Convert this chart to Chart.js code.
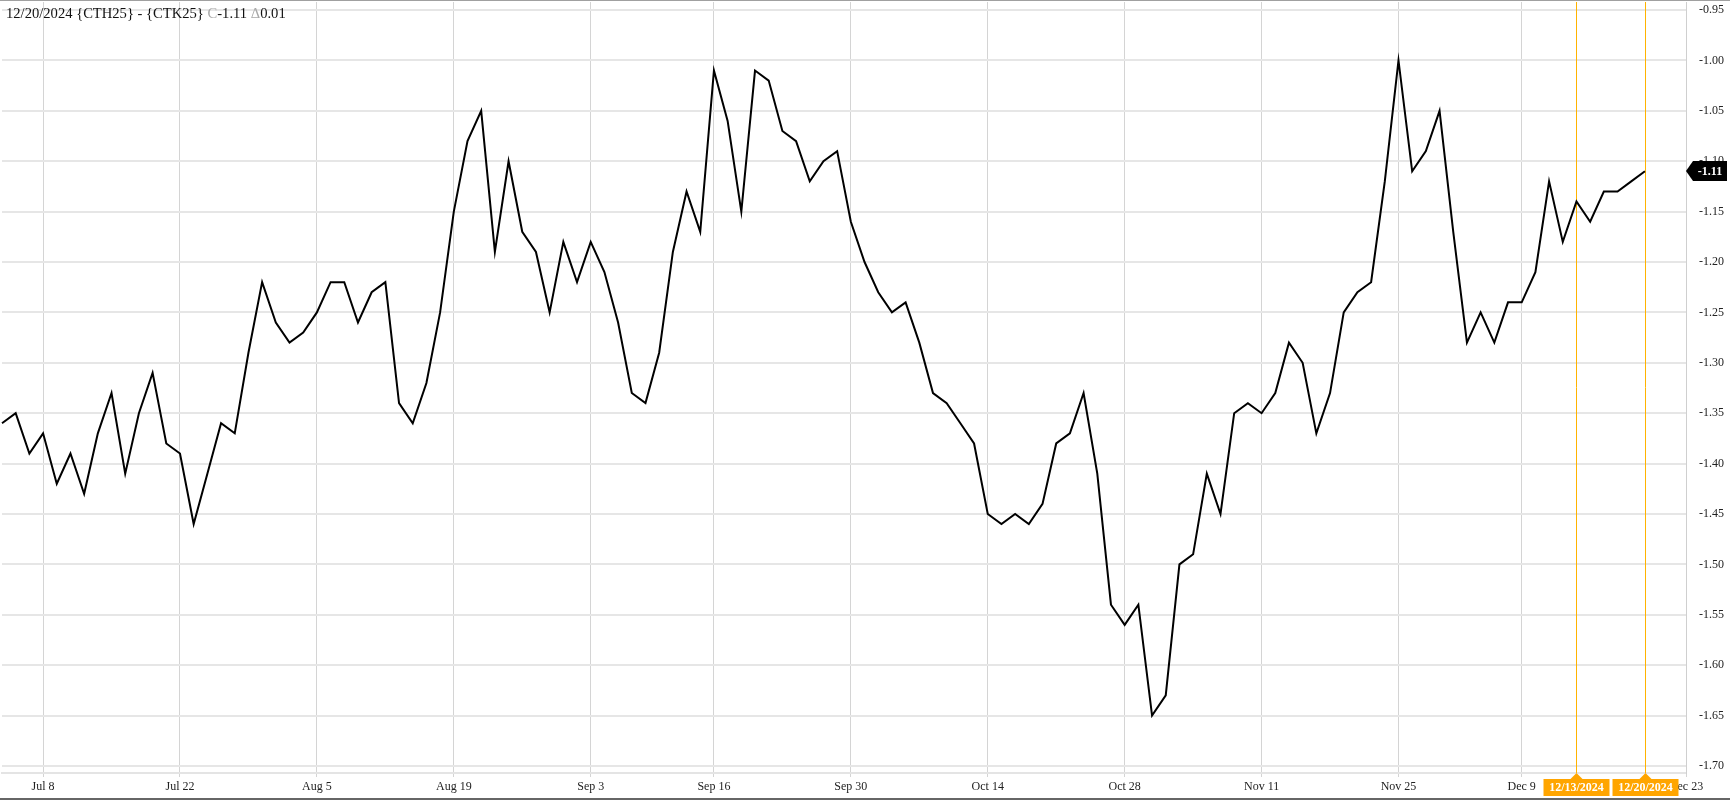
<!DOCTYPE html>
<html>
<head>
<meta charset="utf-8">
<script src="https://cdn.jsdelivr.net/npm/chart.js@4.4.1/dist/chart.umd.min.js"></script>
<style>
    body { margin: 0; background: #fff; }
    #wrap { width: 1730px; height: 800px; }
</style>
</head>
<body>
<div id="wrap"><canvas id="spread" width="1730" height="800"></canvas></div>
<script>
// trading days, plus three calendar days of empty space after the last close
const days = [
    'Jul 2','Jul 3','Jul 5','Jul 8','Jul 9','Jul 10','Jul 11','Jul 12','Jul 15','Jul 16','Jul 17','Jul 18','Jul 19',
    'Jul 22','Jul 23','Jul 24','Jul 25','Jul 26','Jul 29','Jul 30','Jul 31',
    'Aug 1','Aug 2','Aug 5','Aug 6','Aug 7','Aug 8','Aug 9','Aug 12','Aug 13','Aug 14','Aug 15','Aug 16',
    'Aug 19','Aug 20','Aug 21','Aug 22','Aug 23','Aug 26','Aug 27','Aug 28','Aug 29','Aug 30',
    'Sep 3','Sep 4','Sep 5','Sep 6','Sep 9','Sep 10','Sep 11','Sep 12','Sep 13','Sep 16','Sep 17','Sep 18','Sep 19','Sep 20',
    'Sep 23','Sep 24','Sep 25','Sep 26','Sep 27','Sep 30',
    'Oct 1','Oct 2','Oct 3','Oct 4','Oct 7','Oct 8','Oct 9','Oct 10','Oct 11','Oct 14','Oct 15','Oct 16','Oct 17','Oct 18',
    'Oct 21','Oct 22','Oct 23','Oct 24','Oct 25','Oct 28','Oct 29','Oct 30','Oct 31',
    'Nov 1','Nov 4','Nov 5','Nov 6','Nov 7','Nov 8','Nov 11','Nov 12','Nov 13','Nov 14','Nov 15',
    'Nov 18','Nov 19','Nov 20','Nov 21','Nov 22','Nov 25','Nov 26','Nov 27','Nov 29',
    'Dec 2','Dec 3','Dec 4','Dec 5','Dec 6','Dec 9','Dec 10','Dec 11','Dec 12','Dec 13','Dec 16','Dec 17','Dec 18','Dec 19','Dec 20',
    'Dec 21','Dec 22','Dec 23'
]

// CTH25 - CTK25 spread, one close per trading day
const spread = [
    -1.36,-1.35,-1.39,-1.37,-1.42,-1.39,-1.43,-1.37,-1.33,-1.41,-1.35,-1.31,-1.38,
    -1.39,-1.46,-1.41,-1.36,-1.37,-1.29,-1.22,-1.26,
    -1.28,-1.27,-1.25,-1.22,-1.22,-1.26,-1.23,-1.22,-1.34,-1.36,-1.32,-1.25,
    -1.15,-1.08,-1.05,-1.19,-1.10,-1.17,-1.19,-1.25,-1.18,-1.22,
    -1.18,-1.21,-1.26,-1.33,-1.34,-1.29,-1.19,-1.13,-1.17,-1.01,-1.06,-1.15,-1.01,-1.02,
    -1.07,-1.08,-1.12,-1.10,-1.09,-1.16,
    -1.20,-1.23,-1.25,-1.24,-1.28,-1.33,-1.34,-1.36,-1.38,-1.45,-1.46,-1.45,-1.46,-1.44,
    -1.38,-1.37,-1.33,-1.41,-1.54,-1.56,-1.54,-1.65,-1.63,
    -1.50,-1.49,-1.41,-1.45,-1.35,-1.34,-1.35,-1.33,-1.28,-1.30,-1.37,
    -1.33,-1.25,-1.23,-1.22,-1.12,-1.00,-1.11,-1.09,-1.05,
    -1.17,-1.28,-1.25,-1.28,-1.24,-1.24,-1.21,-1.12,-1.18,-1.14,-1.16,-1.13,-1.13,-1.12,-1.11
]

const tickDays = ['Jul 8','Jul 22','Aug 5','Aug 19','Sep 3','Sep 16','Sep 30','Oct 14','Oct 28','Nov 11','Nov 25','Dec 9','Dec 23']
const markerDays = ['Dec 13', 'Dec 20']
const markerText = ['12/13/2024', '12/20/2024']
const titleDate = '12/20/2024'
const titleName = '{CTH25} - {CTK25}'

const FONT = '"Liberation Serif", "DejaVu Serif", serif'

const overlay = {
    id: 'overlay',
    beforeDatasetsDraw(chart) {
        const {ctx, chartArea, scales} = chart
        ctx.save()
        ctx.strokeStyle = '#ffb300'
        ctx.lineWidth = 1
        markerDays.forEach(d => {
            const px = Math.round(scales.x.getPixelForValue(days.indexOf(d))) + 0.5
            ctx.beginPath()
            ctx.moveTo(px, chartArea.top)
            ctx.lineTo(px, chartArea.bottom)
            ctx.stroke()
        })
        ctx.restore()
    },
    afterDraw(chart) {
        const {ctx, chartArea, scales, width, height} = chart
        ctx.save()

        // frame
        ctx.fillStyle = '#a0a0a0'
        ctx.fillRect(0, 0, width, 1)
        ctx.fillStyle = '#666'
        ctx.fillRect(0, height - 2, width, 2)

        // title
        const last = spread[spread.length - 1]
        const change = last - spread[spread.length - 2]
        const parts = [
            [titleDate + ' ' + titleName + ' ', '#111'],
            ['C', '#a8a8a8'],
            [last.toFixed(2) + ' ', '#111'],
            ['\u0394', '#a8a8a8'],
            [change.toFixed(2), '#111'],
        ]
        ctx.font = '14.6px ' + FONT
        ctx.textBaseline = 'alphabetic'
        ctx.textAlign = 'left'
        let tx = 6
        parts.forEach(([txt, col]) => {
            ctx.fillStyle = col
            ctx.fillText(txt, tx, 18)
            tx += ctx.measureText(txt).width
        })

        // date markers on the x axis
        ctx.font = 'bold 12px ' + FONT
        ctx.textAlign = 'center'
        ctx.textBaseline = 'middle'
        markerDays.forEach((d, i) => {
            const px = Math.round(scales.x.getPixelForValue(days.indexOf(d))) + 0.5
            const top = chartArea.bottom + 6
            ctx.fillStyle = '#ffa500'
            ctx.fillRect(px - 33, top, 66, 17)
            ctx.beginPath()
            ctx.moveTo(px, chartArea.bottom)
            ctx.lineTo(px - 6, top)
            ctx.lineTo(px + 6, top)
            ctx.closePath()
            ctx.fill()
            ctx.fillStyle = '#fff'
            ctx.fillText(markerText[i], px, top + 9)
        })

        // last price tag
        const yc = Math.round(scales.y.getPixelForValue(last))
        const lx = chartArea.right
        ctx.fillStyle = '#000'
        ctx.beginPath()
        ctx.moveTo(lx, yc)
        ctx.lineTo(lx + 7, yc - 10)
        ctx.lineTo(lx + 41, yc - 10)
        ctx.lineTo(lx + 41, yc + 10)
        ctx.lineTo(lx + 7, yc + 10)
        ctx.closePath()
        ctx.fill()
        ctx.fillStyle = '#fff'
        ctx.fillText(last.toFixed(2), lx + 24, yc + 1)

        ctx.restore()
    }
}

new Chart(document.getElementById('spread'), {
    type: 'line',
    data: {
        labels: days,
        datasets: [{
            data: spread,
            borderColor: '#000',
            borderWidth: 2,
            pointRadius: 0,
            tension: 0,
            fill: false,
        }]
    },
    options: {
        responsive: false,
        animation: false,
        layout: { padding: { left: 2, top: 2, right: 0, bottom: 0 } },
        plugins: { legend: { display: false }, tooltip: { enabled: false } },
        scales: {
            x: {
                type: 'category',
                offset: false,
                afterBuildTicks: axis => {
                    axis.ticks = axis.ticks.filter(t => tickDays.includes(days[t.value]))
                },
                afterFit: axis => {
                    axis.height = 27
                    axis.paddingLeft = 0
                    axis.paddingRight = 0
                },
                grid: { color: '#d4d4d4', lineWidth: 1, tickLength: 4 },
                border: { color: '#e4e4e4', width: 2 },
                ticks: {
                    autoSkip: false,
                    maxRotation: 0,
                    padding: 3,
                    color: '#222',
                    font: { family: FONT, size: 12 },
                }
            },
            y: {
                position: 'right',
                min: -1.707,
                max: -0.942,
                afterFit: axis => {
                    axis.width = 44
                    axis.paddingTop = 0
                    axis.paddingBottom = 0
                },
                grid: { color: '#e6e6e6', lineWidth: 2, drawTicks: false },
                border: { color: '#cfcfcf', width: 1 },
                ticks: {
                    stepSize: 0.05,
                    includeBounds: false,
                    padding: 13,
                    color: '#222',
                    font: { family: FONT, size: 12 },
                    callback: v => v.toFixed(2),
                }
            }
        }
    },
    plugins: [overlay]
})
</script>
</body>
</html>
